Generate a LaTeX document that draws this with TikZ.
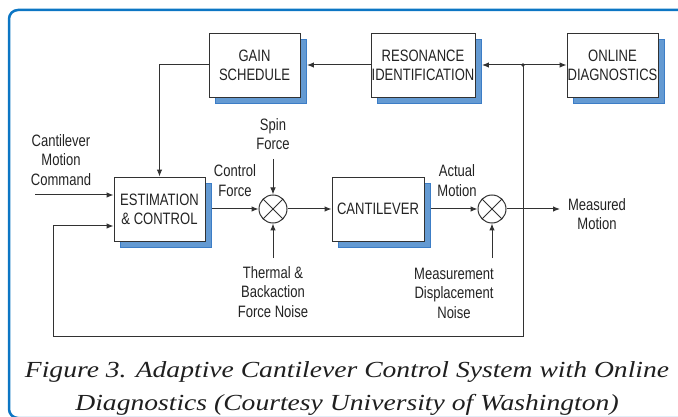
\documentclass[tikz,border=0pt]{standalone}
\usepackage{fontspec}
\setsansfont{Liberation Sans}[FakeStretch=0.79]
\newfontfamily\capfont{Liberation Serif}[FakeStretch=1.2]
\usetikzlibrary{arrows.meta,shadows}
\definecolor{frameblue}{RGB}{12,118,196}
\definecolor{shadowblue}{RGB}{100,154,210}
\definecolor{shadowedge}{RGB}{60,125,198}
\definecolor{linegray}{RGB}{50,50,50}
\definecolor{textgray}{RGB}{35,35,35}
\tikzset{
  blk/.style={draw=linegray, line width=0.9pt, fill=white, minimum width=91pt,
    minimum height=64pt, inner sep=0pt, align=center, text=textgray,
    font=\sffamily\fontsize{16.5}{19}\selectfont,
    drop shadow={shadow xshift=6.5pt, shadow yshift=-6.5pt, fill=shadowblue,
      draw=shadowedge, line width=0.5pt, opacity=1}},
  sumj/.style={circle, draw=linegray, line width=1pt, fill=white, minimum size=28pt,
    inner sep=0pt, path picture={
      \draw[linegray, line width=0.9pt] (path picture bounding box.north west) -- (path picture bounding box.south east)
        (path picture bounding box.north east) -- (path picture bounding box.south west);}},
  conn/.style={draw=linegray, line width=1pt},
  arr/.style={-{Latex[length=7pt,width=5.5pt]}},
  lbl/.style={align=center, text=textgray, inner sep=0pt,
    font=\sffamily\fontsize{16.5}{19.5}\selectfont},
}
\begin{document}
\begin{tikzpicture}[x=1pt,y=-1pt]
\useasboundingbox (0,0) rectangle (678,417);
\draw[frameblue, line width=2.5pt, rounded corners=9pt] (9,10) rectangle (710,418);

% blocks
\node[blk] (gain) at (254.5,65) {GAIN\\SCHEDULE};
\node[blk, minimum width=104pt] (reson) at (423,65) {RESONANCE\\IDENTIFICATION};
\node[blk] (online) at (612.5,65) {ONLINE\\DIAGNOSTICS};
\node[blk] (est) at (159.5,209) {ESTIMATION\\\& CONTROL};
\node[blk, minimum width=92pt] (cant) at (378,209) {CANTILEVER};
\node[sumj] (s1) at (273,209) {};
\node[sumj] (s2) at (492,209) {};

% coordinates
\coordinate (dot) at (523,65);
\coordinate (fbR) at (523,336);
\coordinate (fbL) at (53,336);
\coordinate (fbT) at (53,226);
\coordinate (cmd) at (35,195);
\coordinate (spin) at (273,159);
\coordinate (therm) at (273,258);
\coordinate (noise) at (492,258);
\coordinate (meas) at (560,209);

% labels
\node[lbl] (lcmd) at (61,160) {Cantilever\\Motion\\Command};
\node[lbl] (lspin) at (273,134) {Spin\\Force};
\node[lbl] (lctrl) at (235,180.5) {Control\\Force};
\node[lbl] (ltherm) at (273,292) {Thermal \&\\Backaction\\Force Noise};
\node[lbl] (lact) at (457,180.5) {Actual\\Motion};
\node[lbl] (lmeas) at (597,214) {Measured\\Motion};
\node[lbl] (lnoise) at (454,293) {Measurement\\Displacement\\Noise};

% connectors
\draw[conn, arr, shorten >=6.5pt] (reson.west) -- (gain.east);
\draw[conn, arr, shorten >=6.5pt] (dot) -- (reson.east);
\draw[conn, arr] (dot) -- (online.west);
\draw[conn] (dot) -- (fbR) -- (fbL) -- (fbT);
\draw[conn, arr] (fbT) -- (est.west |- fbT);
\fill[linegray] (dot) circle (1.8pt);
\draw[conn, arr] (gain.west) -| (est.north);
\draw[conn, arr] (cmd) -- (cmd -| est.west);
\draw[conn, arr, shorten <=6.5pt] (est.east) -- (s1.west);
\draw[conn, arr] (s1.east) -- (cant.west);
\draw[conn, arr, shorten <=6.5pt] (cant.east) -- (s2.west);
\draw[conn, arr] (s2.east) -- (meas);
\draw[conn, arr] (spin) -- (s1.north);
\draw[conn, arr] (therm) -- (s1.south);
\draw[conn, arr] (noise) -- (s2.south);

% caption
\node[align=center, inner sep=0pt, text=black!88,
  font=\capfont\itshape\fontsize{23}{33}\selectfont] (cap) at (347,389)
  {Figure 3. Adaptive Cantilever Control System with Online\\Diagnostics (Courtesy University of Washington)};
\end{tikzpicture}
\end{document}
